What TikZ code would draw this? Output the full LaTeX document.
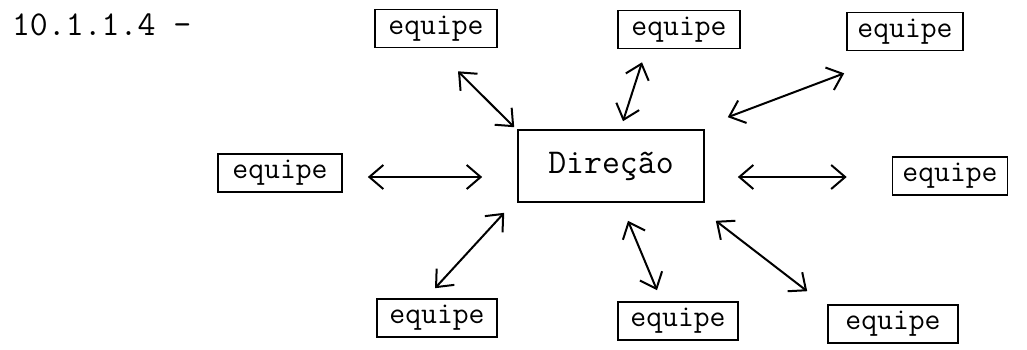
\documentclass[tikz,border=0pt]{standalone}
\usepackage{fontspec}
\usetikzlibrary{calc,arrows.meta}
\tikzset{
  box/.style={
    draw,
    line width=0.8pt,
    inner sep=0pt,
    minimum height=19pt,
    font=\ttfamily\fontsize{15.4}{18}\selectfont
  },
  bigbox/.style={
    draw,
    line width=0.8pt,
    inner sep=0pt,
    minimum width=93pt,
    minimum height=36pt,
    font=\ttfamily\fontsize{17.4}{20}\selectfont
  },
  link/.style={
    line width=1pt,
    {Straight Barb[length=7pt,width=12pt]}-{Straight Barb[length=7pt,width=12pt]}
  }
}
\begin{document}
\begin{tikzpicture}[x=0.5pt,y=-0.5pt]
  \useasboundingbox (0,0) rectangle (1027,349);
  \node[anchor=base west,font=\ttfamily\fontsize{17.4}{20}\selectfont] (num) at (5,35) {10.1.1.4 -};
  \node[bigbox] (dir) at (611,166) {Direção};
  % equipes: name/x/y/width
  \foreach \n/\x/\y/\w in {tl/436/28.5/61, tm/679/29.5/61, tr/905/31.5/58,
                           l/280/173/62, r/950/176/57.5,
                           bl/437/318/60, bm/678/321/60, br/893/324/65}{
      \node[box,minimum width=\w pt] (\n) at (\x,\y) {equipe};
    }
  \draw[link] ($(tl.south)+(22,23)$) -- ($(dir.north west)+(-3,-2)$);
  \draw[link] ($(tm.south)+(-37,13)$) -- ($(dir.north)+(12,-8)$);
  \draw[link] ($(tr.south west)+(-2,22)$) -- ($(dir.north east)+(23,-12)$);
  \draw[link] ($(l.east)+(25,4)$) -- ($(dir.west)+(-35,11)$);
  \draw[link] ($(dir.east)+(33,11)$) -- ($(r.west)+(-45,1)$);
  \draw[link] ($(bl.north)+(-2,-10)$) -- ($(dir.south west)+(-13,10)$);
  \draw[link] ($(dir.south)+(17,18)$) -- ($(bm.north)+(-21,-11)$);
  \draw[link] ($(dir.south east)+(11,18)$) -- ($(br.north west)+(-20,-13)$);
\end{tikzpicture}
\end{document}
